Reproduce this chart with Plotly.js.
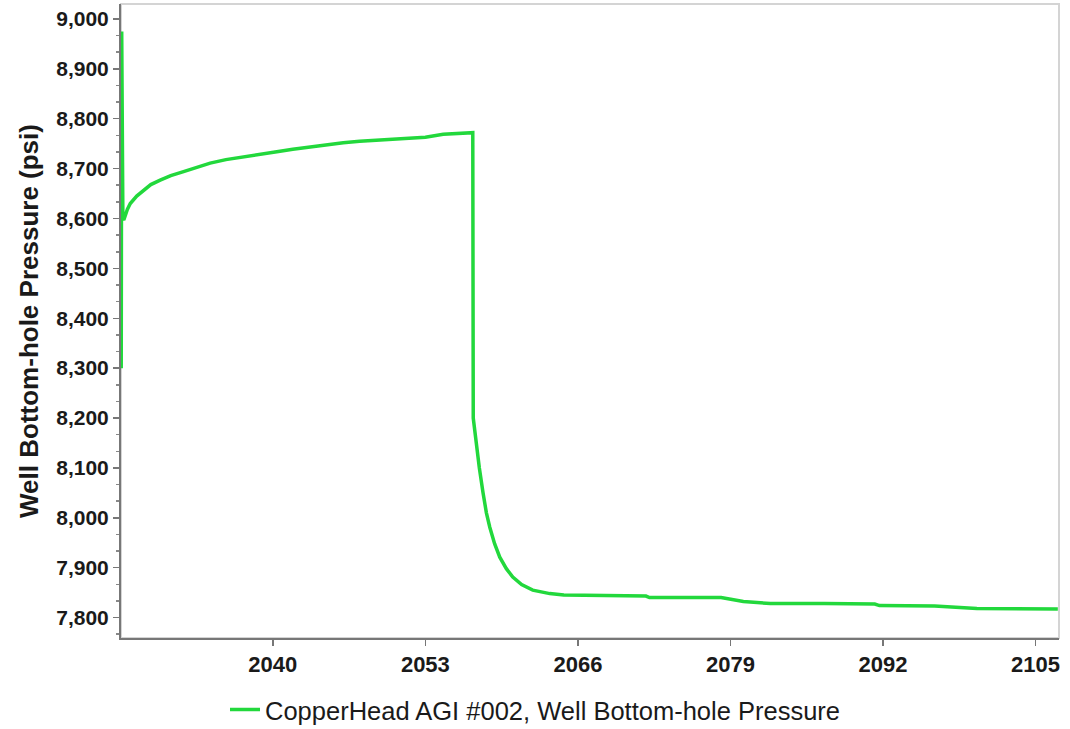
<!DOCTYPE html>
<html>
<head>
<meta charset="utf-8">
<script src="https://cdn.plot.ly/plotly-3.0.1.min.js"></script>
<style>html,body{margin:0;padding:0;background:#fff;}#chart{width:1070px;height:729px;}</style>
</head>
<body>
<div id="chart"></div>
<script>
// Years (decimal) and well bottom-hole pressure (psi)
const years = [
  2027.08, 2027.12, 2027.22, 2027.30, 2027.60, 2027.85, 2028.40, 2028.98, 2029.60,
  2030.40, 2031.30, 2032.39, 2033.50, 2034.66, 2036.00, 2037.49, 2038.90, 2040.34,
  2041.70, 2043.17, 2044.60, 2046.00, 2047.40, 2048.85, 2050.30, 2051.68, 2053.00,
  2054.52, 2055.80, 2056.93, 2057.04, 2057.08, 2057.20, 2057.36, 2057.60, 2057.92,
  2058.20, 2058.49, 2058.90, 2059.34, 2059.90, 2060.45, 2061.20, 2062.15, 2063.60,
  2064.80, 2068.00, 2071.80, 2072.10, 2075.00, 2078.20, 2080.10, 2082.40, 2087.00,
  2091.30, 2091.70, 2096.40, 2100.00, 2103.50, 2106.90
];
const pressure = [
  8300, 8975, 8600, 8597, 8618, 8630, 8645, 8657, 8668,
  8677, 8686, 8694, 8703, 8711, 8718, 8724, 8729, 8734,
  8739, 8744, 8748, 8752, 8755, 8757, 8759, 8761, 8763,
  8769, 8771, 8772, 8772, 8200, 8175, 8149, 8100, 8049,
  8010, 7981, 7948, 7921, 7898, 7881, 7866, 7855, 7848,
  7845, 7844, 7843, 7840, 7840, 7840, 7832, 7828, 7828,
  7827, 7824, 7823, 7818, 7817, 7817
];
const xTicks = [2040, 2053, 2066, 2079, 2092, 2105];
const seriesName = 'CopperHead AGI #002, Well Bottom-hole Pressure';
const yTitle = 'Well Bottom-hole Pressure (psi)';

const trace = {
  x: years, y: pressure, type: 'scatter', mode: 'lines', name: seriesName,
  line: {color: '#22d83c', width: 3.5}
};

const layout = {
  width: 1070, height: 729,
  margin: {l: 121, r: 11, t: 4, b: 91},
  paper_bgcolor: '#ffffff', plot_bgcolor: '#ffffff',
  font: {family: 'Liberation Sans, Arial, sans-serif', color: '#1a1a1a'},
  showlegend: true,
  legend: {orientation: 'h', xref: 'container', yref: 'container', x: 0.5, xanchor: 'center',
           y: 0.026, yanchor: 'middle', font: {size: 25.5, color: '#1a1a1a'}},
  xaxis: {
    range: [2027.06, 2107.0], tickmode: 'array', tickvals: xTicks,
    ticktext: xTicks.map(String),
    showgrid: false, zeroline: false,
    ticks: 'outside', ticklen: 6, tickwidth: 1.5, tickcolor: '#777',
    showline: true, linecolor: '#777', linewidth: 2,
    tickfont: {size: 22, weight: 'bold'}
  },
  yaxis: {
    range: [7759, 9030], dtick: 100, tick0: 7800, tickformat: ',d',
    showgrid: false, zeroline: false,
    ticks: 'outside', ticklen: 6, tickwidth: 1.5, tickcolor: '#777',
    showline: true, linecolor: '#777', linewidth: 2,
    minor: {dtick: 100/3, tick0: 7800, ticks: 'outside', ticklen: 3, tickcolor: '#888', showgrid: false},
    tickfont: {size: 21, weight: 'bold'},
    title: {text: yTitle, font: {size: 26, weight: 'bold'}, standoff: 10}
  },
  shapes: [{type: 'rect', xref: 'paper', yref: 'paper', x0: 0, x1: 1, y0: 0, y1: 1,
            line: {color: '#d4d4d4', width: 2}, layer: 'below'}]
};

Plotly.newPlot('chart', [trace], layout, {displayModeBar: false, staticPlot: true});
</script>
</body>
</html>
